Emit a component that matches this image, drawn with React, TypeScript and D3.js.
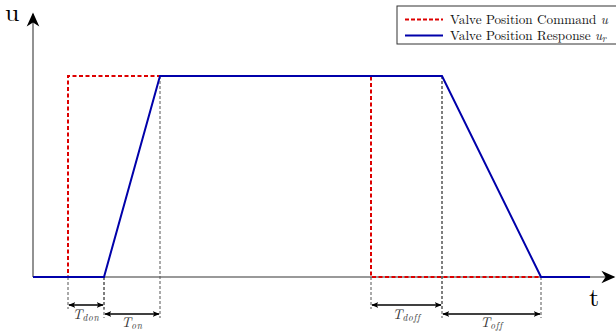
import React from "react";
import * as d3 from "d3";

// time in arbitrary units, amplitude 0..1
const commandT = [0, 3.5, 3.5, 33.8, 33.8, 50.8];
const commandU = [0, 0, 1, 1, 0, 0];
const responseT = [0, 7.1, 12.7, 40.9, 50.8, 55.7];
const responseU = [0, 0, 1, 1, 0, 0];

// dimension markers: subscript, start, end, row
const dimLabels = ["don", "on", "doff", "off"];
const dimStart = [3.5, 7.1, 33.8, 40.9];
const dimEnd = [7.1, 12.7, 40.9, 50.8];
const dimRow = [0, 1, 0, 1];

const legendLabels = ["Valve Position Command ", "Valve Position Response "];
const legendSym = ["u", "u"];
const legendSub = ["", "r"];

const W = 616;
const H = 333;
const SERIF = "'Latin Modern Roman', 'Liberation Serif', serif";

export default function App() {
  const x = d3.scaleLinear().domain([0, 58.1]).range([33, 614]);
  const y = d3.scaleLinear().domain([0, 1]).range([277, 76]);

  const line = d3
    .line<[number, number]>()
    .x((d) => x(d[0]))
    .y((d) => y(d[1]));

  const cmd = commandT.map((t, i) => [t, commandU[i]] as [number, number]);
  const resp = responseT.map((t, i) => [t, responseU[i]] as [number, number]);

  const rowY = [305, 314];
  const labelY = [319, 327];

  // gray dashed guide lines, from the curve down to the dimension arrow
  const atTop = (t: number) => resp.some((p) => p[0] === t && p[1] === 1);
  const guides: { t: number; top: number; bottom: number }[] = [];
  dimStart.forEach((s, i) => {
    const b = rowY[dimRow[i]] + 4;
    guides.push({ t: s, top: y(atTop(s) ? 1 : 0), bottom: b });
    guides.push({ t: dimEnd[i], top: y(atTop(dimEnd[i]) ? 1 : 0), bottom: b });
  });

  const txt = { fontFamily: SERIF };

  return (
    <svg
      width={W}
      height={H}
      style={{ position: "absolute", left: 0, top: 0, background: "#fff" }}
    >
      <defs>
        <marker id="ah" viewBox="0 0 10 10" refX="9" refY="5" markerWidth="7" markerHeight="7" orient="auto-start-reverse" markerUnits="userSpaceOnUse">
          <path d="M0,1 L10,5 L0,9 L2.5,5 Z" fill="#000" />
        </marker>
        <marker id="axh" viewBox="0 0 10 10" refX="9" refY="5" markerWidth="16" markerHeight="14" orient="auto" markerUnits="userSpaceOnUse">
          <path d="M0,0.5 L10,5 L0,9.5 L3,5 Z" fill="#000" />
        </marker>
      </defs>

      {/* axes */}
      <line x1={x(0)} y1={y(0)} x2={x(0)} y2={14} stroke="#777" strokeWidth={1.6} markerEnd="url(#axh)" />
      <line x1={x(0)} y1={y(0)} x2={614} y2={y(0)} stroke="#777" strokeWidth={1.6} markerEnd="url(#axh)" />
      <text x={5} y={21} fontSize={26} style={txt}>u</text>
      <text x={589} y={306} fontSize={26} style={txt}>t</text>

      {/* guides */}
      {guides.map((g, i) => (
        <line key={i} x1={x(g.t)} x2={x(g.t)} y1={g.top} y2={g.bottom} stroke="#555" strokeWidth={1} strokeDasharray="3,2" />
      ))}

      {/* series */}
      <path d={line(cmd) || ""} fill="none" stroke="#dd0000" strokeWidth={2} strokeDasharray="4,2.5" />
      <path d={line(resp) || ""} fill="none" stroke="#0000aa" strokeWidth={2} />

      {/* dimension arrows */}
      {dimLabels.map((lab, i) => {
        const x1 = x(dimStart[i]);
        const x2 = x(dimEnd[i]);
        const yy = rowY[dimRow[i]];
        return (
          <g key={lab}>
            <line x1={x1 + 1} x2={x2 - 1} y1={yy} y2={yy} stroke="#000" strokeWidth={1.3} markerStart="url(#ah)" markerEnd="url(#ah)" />
            <text x={(x1 + x2) / 2} y={labelY[dimRow[i]]} textAnchor="middle" fontSize={14} fontStyle="italic" fill="#333" style={txt}>
              T<tspan fontSize={9.5} dy={2} letterSpacing={0.6}>{lab}</tspan>
            </text>
          </g>
        );
      })}

      {/* legend */}
      <rect x={397} y={6} width={230} height={38} fill="#fff" stroke="#333" strokeWidth={1} />
      {legendLabels.map((lab, i) => {
        const ly = 19.5 + i * 16;
        return (
          <g key={lab}>
            <line x1={405} x2={443} y1={ly} y2={ly} stroke={i === 0 ? "#dd0000" : "#0000aa"} strokeWidth={2} strokeDasharray={i === 0 ? "4,2" : undefined} />
            <text x={450} y={ly + 4.5} fontSize={13.2} fill="#111" style={txt}>
              {lab}
              <tspan fontStyle="italic">{legendSym[i]}</tspan>
              {legendSub[i] && (
                <tspan fontStyle="italic" fontSize={9.5} dy={2}>{legendSub[i]}</tspan>
              )}
            </text>
          </g>
        );
      })}
    </svg>
  );
}
